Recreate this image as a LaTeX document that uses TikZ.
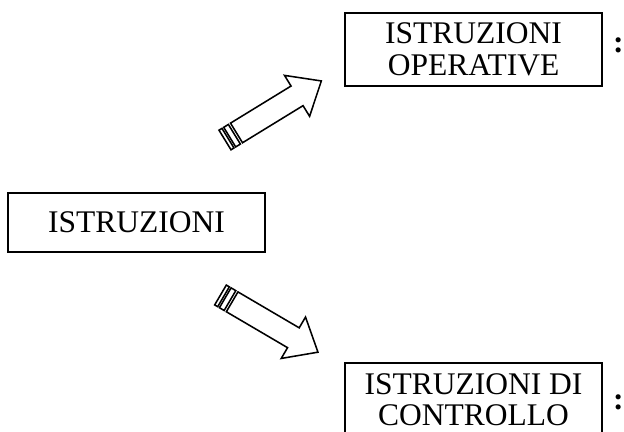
\documentclass[tikz,border=0pt]{standalone}
\usepackage{fontspec}
\setmainfont{Liberation Serif}
\usetikzlibrary{positioning}
\tikzset{
  base/.style = {
    rectangle, draw=black, line width=1.1pt, inner sep=0pt,
    align=center, font=\fontsize{22.4}{22.4}\selectfont
  },
  mainbox/.style = {
    base, minimum width=6.425cm, minimum height=1.475cm
  },
  subbox/.style = {
    base, minimum width=6.425cm, minimum height=1.825cm
  },
  colon/.style = {
    inner sep=0pt, font=\fontsize{22.4}{22.4}\selectfont\bfseries
  },
  arrowline/.style = {draw=black, line width=1.1pt, line join=miter, fill=white},
  stripedarrow/.pic = {
    \draw[arrowline] (0,-11.5) rectangle (3.5,11.5);
    \draw[arrowline] (5.5,-11.5) rectangle (11,11.5);
    \draw[arrowline] (13.5,-11.5) -- (84.5,-11.5) -- (84.5,-24) -- (113,0)
      -- (84.5,24) -- (84.5,11.5) -- (13.5,11.5) -- cycle;
  },
}

\begin{document}
\begin{tikzpicture}[x=0.025cm, y=-0.025cm]
  \useasboundingbox (0,0) rectangle (624,432);
  \clip (0,0) rectangle (624,432);
  \node (istr) [mainbox] at (136.5,222.5) {ISTRUZIONI};
  \node (ops) [subbox] at (473.5,49.5) {ISTRUZIONI\\OPERATIVE};
  \node (ctrl) [subbox] at (473.5,399.5) {ISTRUZIONI DI\\CONTROLLO};
  \node (opscolon) [colon, right=0.25cm of ops, yshift=0.1cm] {:};
  \node (ctrlcolon) [colon, right=0.25cm of ctrl, yshift=-0.075cm] {:};
  \pic [rotate=31.5] at (225,140) {stripedarrow};
  \pic [rotate=-30.4] at (220.5,295) {stripedarrow};
\end{tikzpicture}
\end{document}
